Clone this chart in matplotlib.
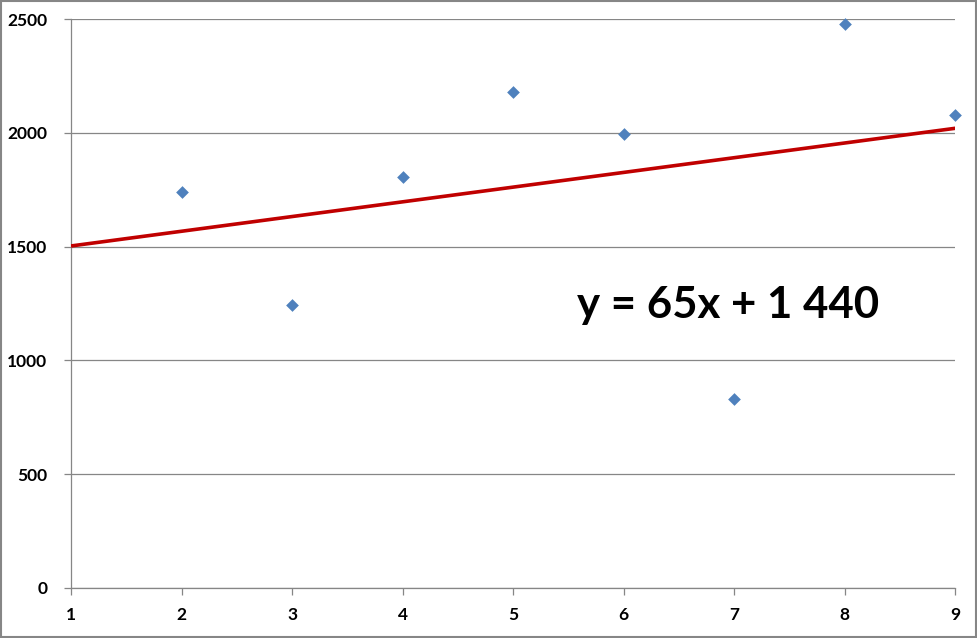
import numpy as np
import matplotlib.pyplot as plt
from matplotlib.patches import Rectangle

# Dados
x_vals = [2, 3, 4, 5, 6, 7, 8, 9]
y_vals = [1740, 1243, 1806, 2179, 1995, 830, 2478, 2078]
x_ticks = [1, 2, 3, 4, 5, 6, 7, 8, 9]
y_ticks = [0, 500, 1000, 1500, 2000, 2500]
equacao = 'y = 65x + 1 440'

cinza = '#868686'
plt.rcParams['font.family'] = ['Lato', 'DejaVu Sans']
plt.rcParams['font.weight'] = 'bold'

fig = plt.figure(figsize=(9.77, 6.38), dpi=100)
ax = fig.add_axes([0.0727, 0.0784, 0.905, 0.8918])

# Linha de tendência (regressão linear)
coef = np.polyfit(x_vals, y_vals, 1)
xl = np.array([x_ticks[0], x_ticks[-1]])
ax.plot(xl, np.polyval(coef, xl), color='#C00000', lw=2.6, zorder=3, solid_capstyle='butt')

ax.scatter(x_vals, y_vals, marker='D', s=42, color='#4F81BD', zorder=4, clip_on=False, linewidths=0)

ax.set_xlim(1, 9)
ax.set_ylim(0, 2500)
ax.set_xticks(x_ticks)
ax.set_yticks(y_ticks)
ax.yaxis.grid(True, color=cinza, lw=0.9)
ax.set_axisbelow(True)

for s in ['top', 'right']:
    ax.spines[s].set_visible(False)
for s in ['left', 'bottom']:
    ax.spines[s].set_color(cinza)
    ax.spines[s].set_linewidth(0.9)

ax.tick_params(axis='x', direction='out', length=5, width=0.9, color=cinza, pad=9,
               labelsize=12.5)
ax.tick_params(axis='y', direction='out', length=5, width=0.9, color=cinza, pad=12,
               labelsize=12.5)

ax.text(0.743, 0.497, equacao, transform=ax.transAxes, fontsize=31.5, fontweight='bold',
        ha='center', va='center')

# Moldura externa do gráfico
fig.patches.append(Rectangle((0.001, 0.001), 0.998, 0.997, transform=fig.transFigure,
                             fill=False, edgecolor=cinza, lw=1.5))

plt.savefig('out.png', dpi=100)
plt.close(fig)
